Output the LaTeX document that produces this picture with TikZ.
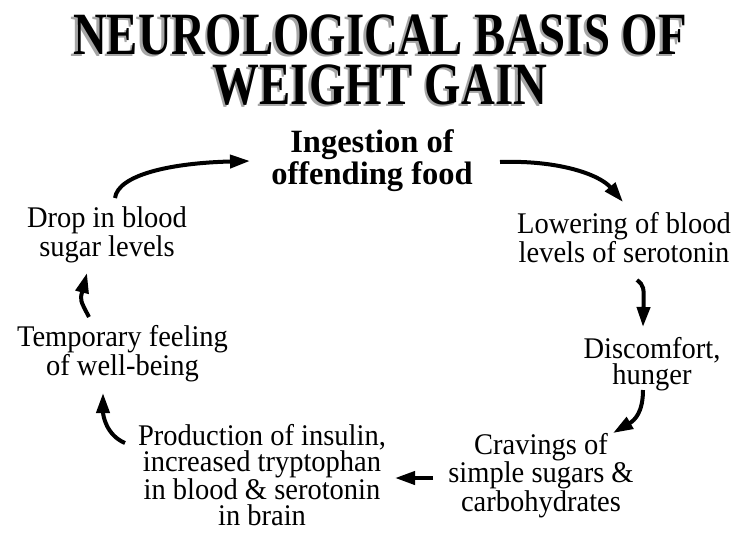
\documentclass[tikz,border=0pt]{standalone}
\usepackage{fontspec}
\setmainfont{Liberation Serif}
\newfontfamily\titlefont[FakeStretch=0.78]{Liberation Serif}
\newfontfamily\bodyfont[FakeStretch=0.95]{Liberation Serif}
\newfontfamily\ingfont{Liberation Serif}
\usetikzlibrary{arrows.meta}
\begin{document}
\begin{tikzpicture}[x=1pt,y=-1pt,
  titletext/.style={font=\titlefont\bfseries\fontsize{60}{50}\selectfont, align=center, inner sep=0pt, anchor=base},
  body/.style={font=\bodyfont\fontsize{30}{25.5}\selectfont, align=center, inner sep=0pt, anchor=base},
  bodybold/.style={font=\ingfont\bfseries\fontsize{32.5}{30}\selectfont, align=center, inner sep=0pt, anchor=base},
  flow/.style={line width=4pt, -{Triangle[length=20pt,width=13pt]}}]
\useasboundingbox (0,0) rectangle (749,533);
\fill[white] (0,0) rectangle (749,533);
% title with shadow (anchor base = last line)
\node[titletext, text=black!35] (tshadow) at (377.5,106.5) {NEUROLOGICAL BASIS OF\\WEIGHT GAIN};
\node[titletext] (title) at (380,104) {NEUROLOGICAL BASIS OF\\WEIGHT GAIN};
% nodes (positioned at the baseline of their last line)
\node[bodybold] (ing) at (372,184) {Ingestion of\\offending food};
\node[body] (low) at (624,262) {Lowering of blood\\levels of serotonin};
\node[body] (dis) at (652,384) {Discomfort,\\hunger};
\node[body] (crav) at (541,511) {Cravings of\\simple sugars \&\\carbohydrates};
\node[body] (prod) at (262,525) {Production of insulin,\\increased tryptophan\\in blood \& serotonin\\in brain};
\node[body] (temp) at (122.5,375) {Temporary feeling\\of well-being};
\node[body] (drop) at (107,256) {Drop in blood\\sugar levels};
% connector ends
\coordinate (a1s) at (115,198); \coordinate (a1e) at (250,161);
\coordinate (a2s) at (500,162); \coordinate (a2e) at (623,202);
\coordinate (a3s) at (637,280); \coordinate (a3e) at (643,327);
\coordinate (a4s) at (643,390); \coordinate (a4e) at (613,433);
\coordinate (a5s) at (433,478); \coordinate (a5e) at (395,478);
\coordinate (a6s) at (125,443); \coordinate (a6e) at (103,393);
\coordinate (a7s) at (89,317);  \coordinate (a7e) at (87,273);
% connectors
\draw[flow] (a1s) .. controls (118,175) and (170,163) .. (a1e);
\draw[flow] (a2s) .. controls (560,160) and (600,175) .. (a2e);
\draw[flow] (a3s) .. controls (644,286) .. (a3e);
\draw[flow] (a4s) .. controls (643,412) and (635,420) .. (a4e);
\draw[flow] (a5s) -- (a5e);
\draw[flow] (a6s) .. controls (106,435) and (103,415) .. (a6e);
\draw[flow] (a7s) .. controls (80,300) .. (a7e);
\end{tikzpicture}
\end{document}
